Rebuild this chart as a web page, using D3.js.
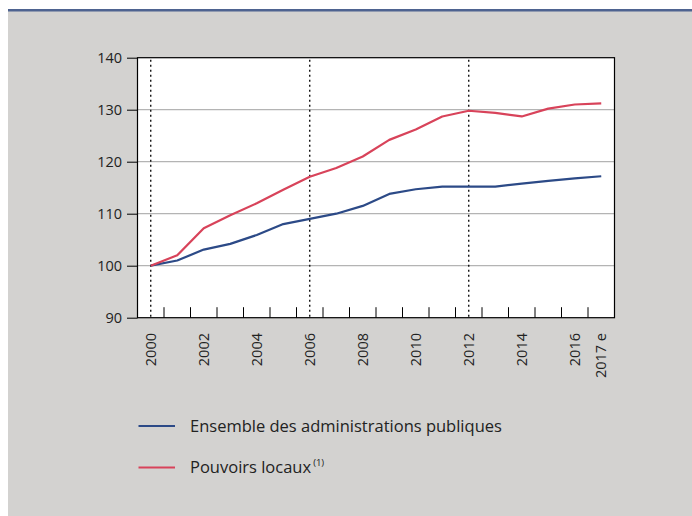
<!DOCTYPE html>
<html><head><meta charset="utf-8">
<script src="https://cdn.jsdelivr.net/npm/d3@7"></script>
<style>
html,body{margin:0;padding:0;background:#fff;}
svg{display:block;font-family:"Open Sans","Noto Sans",sans-serif;}
</style></head>
<body><svg id="c" width="692" height="516"></svg>
<script>
const years = ["2000","2001","2002","2003","2004","2005","2006","2007","2008","2009","2010","2011","2012","2013","2014","2015","2016","2017"];
const yearLabels = ["2000","","2002","","2004","","2006","","2008","","2010","","2012","","2014","","2016","2017 e"];
const ensemble = [100,101.0,103.1,104.2,105.9,108.0,109.0,110.0,111.5,113.8,114.7,115.2,115.2,115.2,115.8,116.3,116.8,117.2];
const pouvoirs = [100,102.0,107.2,109.7,112.0,114.6,117.1,118.8,121.0,124.2,126.2,128.7,129.8,129.4,128.7,130.2,131.0,131.2];
const yTicks = [90,100,110,120,130,140];
const markedYears = ["2000","2006","2012"];
const seriesNames = ["Ensemble des administrations publiques","Pouvoirs locaux"];
const seriesColors = ["#2c4a87","#d8435a"];

const svg = d3.select("#c");
svg.append("rect").attr("x",8).attr("y",11).attr("width",684).attr("height",505).attr("fill","#d3d2d0");
svg.append("rect").attr("x",8).attr("y",9).attr("width",684).attr("height",2.5).attr("fill","#4e6390");

const L=137.5, R=614.5, T=57.7, B=317.7;
const x = d3.scaleBand().domain(years).range([L,R]);
const y = d3.scaleLinear().domain([90,140]).range([B,T]);

svg.append("rect").attr("x",L).attr("y",T).attr("width",R-L).attr("height",B-T).attr("fill","#fff");

svg.append("g").selectAll("line").data(yTicks.filter(d=>d>90&&d<140)).join("line")
  .attr("x1",L).attr("x2",R).attr("y1",d=>y(d)).attr("y2",d=>y(d))
  .attr("stroke","#b4b4b4").attr("stroke-width",1.2);

svg.append("g").selectAll("line").data(markedYears).join("line")
  .attr("x1",d=>x(d)+x.bandwidth()/2).attr("x2",d=>x(d)+x.bandwidth()/2)
  .attr("y1",T+2).attr("y2",B)
  .attr("stroke","#000").attr("stroke-width",1.3).attr("stroke-dasharray","2,3");

const bounds = years.slice(1).map(d=>x(d));
svg.append("g").selectAll("line").data(bounds).join("line")
  .attr("x1",d=>d).attr("x2",d=>d).attr("y1",B).attr("y2",B-10.5)
  .attr("stroke","#000").attr("stroke-width",1);

const line = d3.line().x((d,i)=>x(years[i])+x.bandwidth()/2).y(d=>y(d));
[ensemble,pouvoirs].forEach((s,k)=>{
  svg.append("path").datum(s).attr("d",line).attr("fill","none")
    .attr("stroke",seriesColors[k]).attr("stroke-width",2.2).attr("stroke-linejoin","round");
});

svg.append("rect").attr("x",L).attr("y",T).attr("width",R-L).attr("height",B-T)
  .attr("fill","none").attr("stroke","#000").attr("stroke-width",1.2);

const yAxis = d3.axisLeft(y).tickValues(yTicks).tickSize(10.5).tickPadding(5);
const ga = svg.append("g").attr("transform",`translate(${L},0)`).call(yAxis);
ga.select(".domain").remove();
ga.selectAll(".tick line").attr("stroke","#000").attr("stroke-width",1);
ga.selectAll("text").attr("font-size",14.5).attr("fill","#222").attr("font-family","Open Sans");

svg.append("g").selectAll("text").data(years.map((d,i)=>({d,l:yearLabels[i]})).filter(o=>o.l)).join("text")
  .attr("transform",o=>`translate(${x(o.d)+x.bandwidth()/2+5},333) rotate(-90)`)
  .attr("text-anchor","end").attr("font-size",14.5).attr("fill","#222")
  .text(o=>o.l);

const lg = svg.append("g");
[0,1].forEach(k=>{
  const yy = k===0?426:467.5;
  lg.append("line").attr("x1",138.5).attr("x2",175).attr("y1",yy).attr("y2",yy)
    .attr("stroke",seriesColors[k]).attr("stroke-width",2.2);
  const t = lg.append("text").attr("x",190).attr("y",yy+5.5).attr("font-size",16.5).attr("fill","#222").text(seriesNames[k]);
  if(k===1){
    t.append("tspan").attr("font-size",9.5).attr("dx",2).attr("dy",-7).text("(1)");
  }
});
</script></body></html>
